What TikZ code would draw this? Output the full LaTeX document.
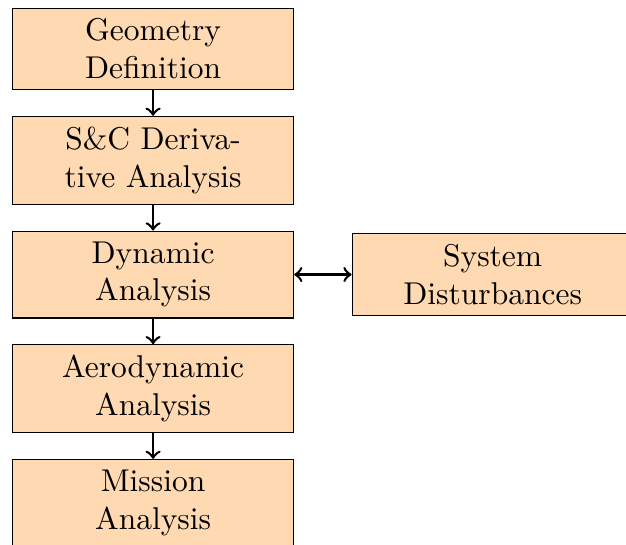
\documentclass[tikz,border=0pt]{standalone}
\usetikzlibrary{positioning}

\begin{document}
\begin{tikzpicture}[
every node/.style={%
    font=\normalsize
    },
blk/.style={draw, fill=orange!30, text width=2.9cm, align=center},
node distance=0.286cm and 0.64cm
]
\useasboundingbox (0,0) rectangle (198.7pt,-172.7pt);

\node[blk, anchor=north west] (geom) at (3.8pt,-2.4pt) {Geometry\\ Definition};
\node[blk, below=of geom] (deriv) {S\&C Deriva-\\ tive Analysis};
\node[blk, below=of deriv] (dyn) {Dynamic\\ Analysis};
\node[blk, below=of dyn] (aero) {Aerodynamic\\ Analysis};
\node[blk, below=of aero] (mission) {Mission\\ Analysis};
\node[blk, right=of dyn] (dist) {System\\ Disturbances};

\foreach \i/\j in {geom/deriv, deriv/dyn, dyn/aero, aero/mission}
    \draw [thick, ->] (\i) -- (\j);
\draw [thick, <->] (dyn) -- (dist);

\end{tikzpicture}
\end{document}
